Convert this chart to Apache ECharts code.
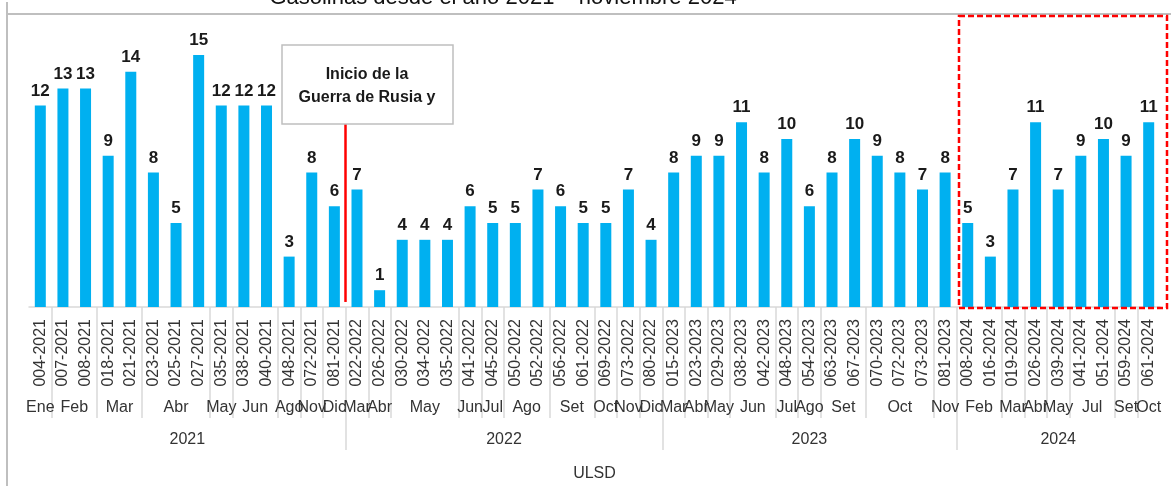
<!DOCTYPE html>
<html>
<head>
<meta charset="utf-8">
<script src="https://cdn.jsdelivr.net/npm/echarts@6/dist/echarts.min.js"></script>
<style>
  html, body { margin: 0; padding: 0; background: #fff; }
  #main { width: 1171px; height: 486px; }
</style>
</head>
<body>
<div id="main"></div>
<script>
// codes of each bar (bottom level 1)
const codes = [
  "004-2021", "007-2021", "008-2021", "018-2021", "021-2021", "023-2021", "025-2021",
  "027-2021", "035-2021", "038-2021", "040-2021", "048-2021", "072-2021", "081-2021",
  "022-2022", "026-2022", "030-2022", "034-2022", "035-2022", "041-2022", "045-2022",
  "050-2022", "052-2022", "056-2022", "061-2022", "069-2022", "073-2022", "080-2022",
  "015-2023", "023-2023", "029-2023", "038-2023", "042-2023", "048-2023", "054-2023",
  "063-2023", "067-2023", "070-2023", "072-2023", "073-2023", "081-2023",
  "008-2024", "016-2024", "019-2024", "026-2024", "039-2024", "041-2024", "051-2024",
  "059-2024", "061-2024"
];
// month of each bar (level 2)
const months = [
  "Ene", "Feb", "Feb", "Mar", "Mar", "Abr", "Abr", "Abr", "May", "Jun", "Jun", "Ago", "Nov", "Dic",
  "Mar", "Abr", "May", "May", "May", "Jun", "Jul", "Ago", "Ago", "Set", "Set", "Oct", "Nov", "Dic",
  "Mar", "Abr", "May", "Jun", "Jun", "Jul", "Ago", "Set", "Set", "Oct", "Oct", "Oct", "Nov",
  "Feb", "Feb", "Mar", "Abr", "May", "Jul", "Jul", "Set", "Oct"
];
// year of each bar (level 3)
const years = [
  "2021", "2021", "2021", "2021", "2021", "2021", "2021", "2021", "2021", "2021", "2021", "2021", "2021", "2021",
  "2022", "2022", "2022", "2022", "2022", "2022", "2022", "2022", "2022", "2022", "2022", "2022", "2022", "2022",
  "2023", "2023", "2023", "2023", "2023", "2023", "2023", "2023", "2023", "2023", "2023", "2023", "2023",
  "2024", "2024", "2024", "2024", "2024", "2024", "2024", "2024", "2024"
];
const product = "ULSD";
const values = [
  12, 13, 13, 9, 14, 8, 5, 15, 12, 12, 12, 3, 8, 6,
  7, 1, 4, 4, 4, 6, 5, 5, 7, 6, 5, 5, 7, 4,
  8, 9, 9, 11, 8, 10, 6, 8, 10, 9, 8, 7, 8,
  5, 3, 7, 11, 7, 9, 10, 9, 11
];

const n = codes.length;

// build groups of consecutive equal keys -> boundaries and centers
function groups(keys) {
  const bounds = [0];
  const labels = {};
  let start = 0;
  for (let i = 1; i <= keys.length; i++) {
    if (i === keys.length || keys[i] !== keys[start]) {
      bounds.push(i);
      labels[(start + i) / 2] = keys[start].split("|")[0];
      start = i;
    }
  }
  return { bounds, labels };
}
const monthGroups = groups(months.map((m, i) => m + "|" + years[i]));
const yearGroups = groups(years);
const prodGroups = groups(codes.map(() => product));

const font = "Liberation Sans";
const gridColor = "#d9d9d9";

function levelAxis(g, tickLen, margin) {
  // empty labels at both ends so no real label is treated as min/max
  const centers = [0].concat(Object.keys(g.labels).map(Number), [n]);
  return {
    type: "value",
    min: 0,
    max: n,
    position: "bottom",
    axisLine: { show: false },
    splitLine: { show: false },
    axisTick: {
      show: true,
      customValues: g.bounds,
      length: tickLen,
      lineStyle: { color: gridColor, width: 1.5 }
    },
    axisLabel: {
      customValues: centers,
      showMinLabel: false,
      showMaxLabel: false,
      hideOverlap: false,
      margin: margin,
      color: "#333",
      fontSize: 16,
      fontFamily: font,
      formatter: (v) => g.labels[v] || ""
    }
  };
}

const chart = echarts.init(document.getElementById("main"));
const option = {
  animation: false,
  grid: { left: 29, right: 11, top: 13, bottom: 179 },
  xAxis: [
    {
      type: "category",
      data: codes,
      axisLine: { lineStyle: { color: gridColor, width: 1.5 } },
      axisTick: { show: false },
      axisLabel: {
        rotate: 90,
        interval: 0,
        margin: 12,
        color: "#333",
        fontSize: 16,
        fontFamily: font
      }
    },
    levelAxis(monthGroups, 111, 93),
    levelAxis(yearGroups, 143, 125),
    levelAxis(prodGroups, 179, 159)
  ],
  yAxis: {
    type: "value",
    min: 0,
    max: 17.5,
    show: false
  },
  series: [
    {
      type: "bar",
      data: values,
      barWidth: 11,
      itemStyle: { color: "#00b0f0" },
      label: {
        show: true,
        position: "top",
        distance: 6,
        color: "#1a1a1a",
        fontWeight: "bold",
        fontSize: 17,
        fontFamily: font
      }
    },
    {
      type: "scatter",
      xAxisIndex: 1,
      data: [],
      markLine: {
        symbol: "none",
        silent: true,
        label: { show: false },
        lineStyle: { color: "#ff0000", width: 2.5, type: "solid" },
        data: [[{ coord: [14, 0.3] }, { coord: [14, 10.9] }]]
      }
    }
  ],
  graphic: [
    { type: "line", shape: { x1: 7, y1: 2, x2: 7, y2: 486 }, style: { stroke: "#bfbfbf", lineWidth: 2 } },
    { type: "line", shape: { x1: 7, y1: 14, x2: 1171, y2: 14 }, style: { stroke: "#bfbfbf", lineWidth: 2 } },
    {
      type: "text",
      x: 503,
      y: -2,
      style: {
        text: "Gasolinas desde el año 2021 – noviembre 2024",
        font: "22px Liberation Sans",
        fill: "#111",
        align: "center",
        verticalAlign: "middle"
      }
    },
    {
      type: "rect",
      shape: { x: 282, y: 45, width: 171, height: 79 },
      style: { fill: "#fff", stroke: "#bfbfbf", lineWidth: 1.5 },
      z: 10
    },
    {
      type: "text",
      x: 367,
      y: 86,
      z: 11,
      style: {
        text: "Inicio de la\nGuerra de Rusia y",
        font: "bold 16px Liberation Sans",
        fill: "#1a1a1a",
        align: "center",
        verticalAlign: "middle",
        lineHeight: 23
      }
    },
    {
      type: "rect",
      shape: { x: 959, y: 16, width: 208, height: 292 },
      style: { fill: "none", stroke: "#ff0000", lineWidth: 2.5, lineDash: [6, 3] },
      z: 10
    }
  ]
};
chart.setOption(option);
</script>
</body>
</html>
